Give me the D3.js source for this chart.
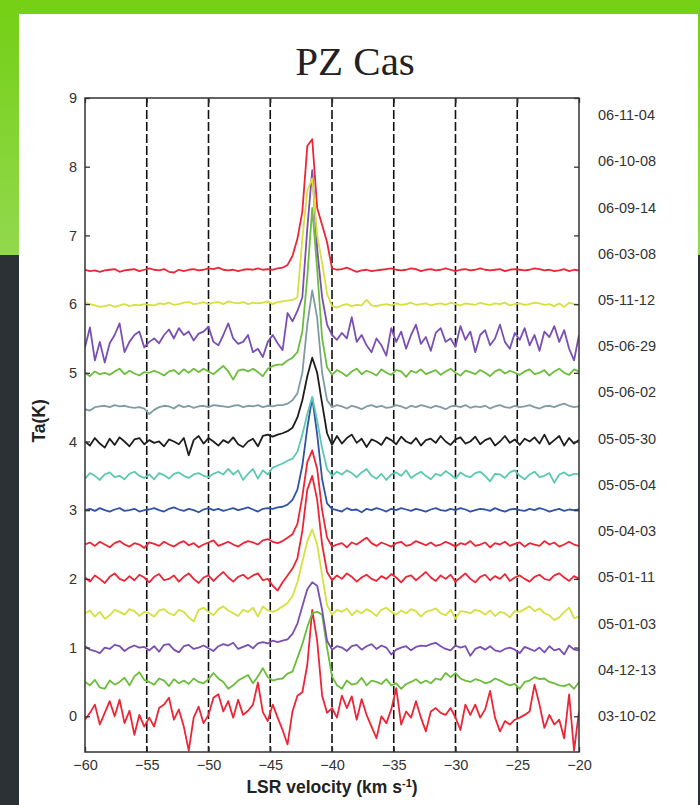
<!DOCTYPE html>
<html lang="en">
<head>
  <meta charset="UTF-8">
  <title>PZ Cas spectra</title>
  <script src="https://cdn.jsdelivr.net/npm/d3@7/dist/d3.min.js"></script>
  <style>
    body { margin: 0; background: #2b3134; }
    svg { display: block; }
    .tick-label { font-family: "Liberation Sans", Arial, sans-serif; font-size: 14.5px; fill: #333; }
    .axis-title { font-family: "Liberation Sans", Arial, sans-serif; font-size: 17.5px; font-weight: bold; fill: #222; }
    .frame { fill: none; stroke: #333; stroke-width: 1.5; }
    .grid { stroke: #111; stroke-width: 1.6; stroke-dasharray: 9,3; }
  </style>
</head>
<body>
<svg width="700" height="805"></svg>
<script>
  // observation dates, bottom spectrum first
  const dates = ["03-10-02", "04-12-13", "05-01-03", "05-01-11", "05-04-03", "05-05-04", "05-05-30",
                 "05-06-02", "05-06-29", "05-11-12", "06-03-08", "06-09-14", "06-10-08", "06-11-04"];
  // vertical shift of each spectrum (K)
  const offsets = [0, 0.5, 1, 1.5, 2, 2.5, 3, 3.5, 4, 4.5, 5, 5.5, 6, 6.5];
  const lineColors = ["#ec2637", "#6cbd3a", "#7a4fb3", "#d6e03e", "#ec2637", "#ec2637", "#3153a6",
                      "#5cc8b2", "#1e1e1e", "#7f9ca4", "#6cbd3a", "#7a4fb3", "#d6e03e", "#ec2637"];

  // channels: -60 km/s, 0.4 km/s steps, 101 channels
  const velStart = -60;
  const velStep = 0.4;

  const xTicks = [-60, -55, -50, -45, -40, -35, -30, -25, -20];
  const yTicks = [0, 1, 2, 3, 4, 5, 6, 7, 8, 9];

  // Ta (K) per channel, before shifting
  const s031002 = [-0.05,0.05,0.17,-0.12,0.05,0.22,0.0,0.24,-0.1,0.08,
    -0.27,0.02,-0.15,-0.02,-0.15,0.12,0.17,0.27,-0.05,0.1,
    -0.15,-0.5,-0.02,0.14,-0.1,0.02,0.27,0.32,0.07,0.22,
    -0.02,0.24,0.02,0.08,0.17,0.49,0.06,-0.07,0.17,-0.02,
    -0.2,-0.41,0.07,0.3,0.35,0.75,1.55,1.1,0.3,0.05,
    0.12,-0.02,0.3,0.12,0.29,-0.05,0.25,0.02,-0.15,-0.32,
    0.0,-0.1,0.1,0.41,-0.12,0.07,-0.02,0.22,-0.02,-0.22,
    0.07,0.12,0.05,0.02,0.12,-0.02,-0.2,0.17,0.02,0.17,
    -0.02,0.1,0.37,-0.02,-0.22,-0.07,-0.12,-0.05,-0.02,0.02,
    0.07,0.46,0.17,-0.17,0.02,-0.12,-0.05,-0.32,0.32,-0.5,
    0.07];
  const s041213 = [0.0,-0.05,0.03,-0.08,-0.1,0.02,-0.04,0.0,0.06,-0.05,
    0.08,0.14,0.03,0.0,-0.04,0.05,0.02,-0.06,0.04,-0.02,
    0.02,-0.03,0.05,0.0,-0.02,0.04,0.13,0.05,0.0,-0.1,
    -0.05,0.02,0.06,0.1,-0.02,0.08,0.2,0.07,0.02,0.04,
    0.05,0.12,0.15,0.35,0.55,0.8,1.0,1.02,0.98,0.5,
    0.08,-0.05,-0.1,0.02,-0.04,-0.02,0.06,-0.05,0.02,0.0,
    -0.03,0.04,-0.05,-0.02,-0.1,-0.03,0.0,0.04,-0.02,0.02,
    -0.02,0.05,0.03,0.13,0.07,0.13,0.05,0.02,0.0,0.04,
    0.02,-0.02,0.0,0.05,0.02,-0.02,-0.05,-0.03,-0.1,0.0,
    0.02,0.07,0.04,0.05,0.0,-0.02,-0.05,-0.06,-0.03,-0.1,
    0.0];
  const s050103 = [0.02,-0.03,-0.05,-0.08,0.0,-0.02,0.04,0.02,-0.05,0.0,
    0.03,0.0,0.01,-0.04,0.02,-0.06,0.04,0.05,-0.03,-0.07,
    0.02,0.04,-0.02,0.0,0.03,-0.01,-0.05,0.02,0.05,0.03,
    0.07,-0.02,0.01,0.04,-0.01,0.06,0.08,0.06,0.1,0.08,
    0.1,0.12,0.2,0.35,0.6,0.85,0.95,0.9,0.55,0.1,
    -0.03,0.02,0.0,-0.05,0.02,0.04,-0.03,0.02,0.05,-0.02,
    0.03,0.0,-0.1,-0.03,0.0,0.02,-0.04,0.01,0.03,0.02,
    0.05,0.07,0.02,-0.02,-0.04,0.03,0.0,0.02,-0.12,-0.02,
    0.01,-0.03,0.02,-0.04,-0.06,-0.02,0.0,-0.03,-0.08,0.01,
    -0.02,-0.05,0.0,-0.07,0.02,-0.04,-0.02,-0.1,0.03,-0.03,
    -0.04];
  const s050111 = [0.0,0.04,-0.05,0.02,-0.08,-0.03,0.05,0.02,-0.02,0.06,
    0.03,-0.04,0.02,0.0,-0.05,0.04,0.06,0.0,-0.03,0.05,
    0.02,-0.06,-0.12,0.05,0.08,0.02,-0.03,0.06,0.1,0.04,
    0.0,-0.04,0.05,0.02,0.08,-0.05,0.1,0.04,0.02,0.05,
    0.1,0.15,0.25,0.45,0.75,1.05,1.22,1.0,0.55,0.12,
    -0.02,0.05,0.02,0.07,-0.03,0.04,0.0,0.06,0.02,-0.04,
    0.05,0.08,0.02,-0.02,0.04,0.0,0.06,0.03,-0.05,0.02,
    0.04,0.07,0.0,-0.03,0.05,-0.08,0.03,0.02,0.0,0.05,
    0.03,-0.02,0.04,-0.04,0.02,0.0,-0.06,0.03,0.02,0.06,
    0.1,0.03,0.07,0.0,-0.03,-0.1,-0.06,0.02,0.08,-0.07,
    -0.05];
  const s050403 = [0.02,-0.04,0.05,0.0,-0.06,0.03,0.08,0.0,-0.03,0.04,
    -0.02,0.06,0.02,-0.05,0.03,0.07,-0.02,0.0,0.05,-0.04,
    0.03,0.08,0.0,-0.06,0.02,0.05,-0.03,0.04,0.1,0.02,
    -0.04,0.03,0.06,0.0,0.05,0.08,-0.02,0.0,-0.1,-0.17,
    -0.05,0.05,0.15,0.3,0.7,1.3,1.5,1.15,0.5,0.1,
    -0.02,0.05,0.0,0.08,0.03,-0.04,0.02,0.06,0.0,-0.03,
    0.04,0.0,0.07,0.02,-0.05,0.03,0.05,-0.02,0.04,0.1,
    0.02,-0.03,0.05,0.0,0.06,-0.04,0.02,0.08,0.0,-0.05,
    0.03,0.06,-0.02,0.04,0.0,0.07,-0.03,0.02,0.05,0.0,
    -0.04,0.03,0.06,0.0,-0.02,0.05,0.08,0.02,-0.03,0.04,
    0.0];
  const s050504 = [0.0,0.03,-0.02,0.04,0.0,-0.04,0.02,0.05,0.0,-0.03,
    0.02,0.0,-0.05,0.03,0.01,-0.02,0.04,0.0,-0.03,0.02,
    0.05,-0.01,0.02,-0.04,0.0,0.03,0.06,-0.02,0.01,0.04,
    0.0,-0.03,0.02,0.05,0.03,0.0,0.06,0.08,0.04,0.02,
    0.05,0.1,0.15,0.3,0.7,1.2,1.37,1.1,0.5,0.1,
    -0.03,0.0,0.02,-0.04,0.03,0.0,0.05,0.1,0.02,-0.02,
    0.03,0.0,-0.03,0.02,0.04,-0.02,0.0,0.05,0.02,-0.01,
    0.03,-0.02,0.0,0.04,0.01,-0.03,0.02,0.0,0.05,-0.02,
    0.0,0.03,-0.04,0.02,0.0,0.04,-0.02,0.01,0.03,-0.03,
    0.02,0.0,-0.02,0.05,0.0,0.03,-0.03,0.0,0.04,0.0,
    -0.02];
  const s050530 = [0.0,0.02,-0.01,0.03,0.0,-0.02,0.01,0.03,-0.01,0.0,
    0.02,-0.02,0.0,0.01,0.03,0.0,-0.02,0.02,0.04,0.01,
    -0.01,0.02,0.0,-0.03,0.01,0.03,0.0,0.02,-0.01,0.01,
    0.03,0.0,0.02,0.04,0.01,-0.02,0.02,0.03,0.02,0.04,
    0.05,0.08,0.15,0.3,0.65,1.2,1.64,1.1,0.45,0.1,
    0.02,0.0,-0.02,0.03,0.0,0.01,-0.03,0.02,0.0,0.03,
    0.01,-0.02,0.02,0.0,0.03,0.01,-0.01,0.02,0.0,-0.02,
    0.01,0.03,0.0,-0.01,0.02,0.0,0.03,0.01,-0.02,0.0,
    0.02,0.01,-0.01,0.03,0.0,-0.02,0.01,0.02,0.0,-0.01,
    0.02,0.0,0.03,0.01,-0.02,0.0,0.02,-0.01,0.01,0.0,
    0.01];
  const s050602 = [-0.04,0.04,0.0,-0.06,0.02,0.05,-0.02,0.0,-0.05,0.03,
    0.06,0.0,-0.03,0.02,-0.05,0.04,0.01,-0.04,0.03,0.05,
    0.0,-0.03,0.02,0.04,0.0,-0.02,0.03,0.06,0.02,0.1,
    0.02,0.08,-0.06,0.03,0.1,-0.04,0.08,0.02,0.12,0.15,
    0.18,0.22,0.25,0.35,0.6,0.9,1.15,0.8,0.4,0.1,
    0.0,0.06,0.02,0.08,0.04,-0.02,0.05,0.1,0.0,-0.04,
    0.03,-0.06,0.02,0.05,0.0,0.08,-0.03,0.02,0.06,0.0,
    -0.05,0.03,0.0,0.07,0.02,-0.04,0.05,0.0,-0.02,0.04,
    0.06,0.0,-0.08,0.03,0.02,-0.03,0.05,0.08,0.0,-0.05,
    0.02,0.06,-0.02,0.0,0.04,-0.1,0.02,0.05,0.0,0.03,
    0.02];
  const s050629 = [0.0,-0.06,0.05,-0.03,-0.09,0.04,-0.05,0.06,0.0,-0.07,
    0.03,0.05,-0.04,0.02,-0.02,0.0,-0.07,0.03,0.0,-0.04,
    0.05,-0.2,0.02,0.08,-0.03,0.05,0.0,-0.06,0.02,-0.02,
    0.06,-0.04,-0.08,0.0,0.04,-0.07,0.08,0.1,0.07,0.1,
    0.12,0.15,0.2,0.35,0.6,0.95,1.22,1.0,0.55,0.12,
    -0.05,0.08,-0.03,0.05,0.1,-0.02,0.04,-0.08,0.03,0.0,
    -0.05,0.06,0.02,-0.04,0.07,0.0,-0.03,0.05,-0.06,0.02,
    0.04,-0.02,0.08,0.0,-0.05,0.03,0.06,-0.03,0.0,0.07,
    -0.04,0.02,0.05,-0.06,0.0,0.08,-0.02,0.03,-0.05,0.04,
    0.0,0.06,-0.03,0.1,-0.04,0.02,0.08,-0.06,0.05,-0.03,
    0.02];
  const s051112 = [-0.03,-0.05,0.0,0.01,0.02,0.0,0.03,0.01,0.02,0.0,
    -0.01,0.0,-0.02,-0.1,-0.04,0.0,0.02,0.01,-0.02,0.03,
    0.0,0.02,-0.01,0.01,0.02,0.0,0.03,0.02,0.01,0.0,
    0.02,0.03,0.0,0.02,0.01,0.03,0.0,0.02,0.01,0.03,
    0.03,0.05,0.1,0.2,0.5,1.2,1.7,1.3,0.5,0.1,
    0.0,0.03,0.01,-0.02,0.02,0.0,-0.03,0.01,0.03,0.0,
    0.02,-0.01,0.0,0.03,0.01,-0.02,0.02,0.0,0.03,0.01,
    -0.01,0.02,0.0,-0.03,0.01,0.02,0.0,0.03,-0.01,0.01,
    0.0,0.02,-0.02,0.01,0.03,0.0,-0.01,0.02,0.0,0.01,
    0.03,0.0,-0.02,0.01,0.02,0.0,0.03,0.05,0.02,0.0,
    0.01];
  const s060308 = [0.0,-0.05,0.02,-0.02,0.0,-0.03,0.02,0.06,-0.02,0.03,
    -0.01,-0.04,0.01,0.0,0.03,0.0,-0.04,0.02,0.04,-0.02,
    0.05,0.0,0.06,0.01,0.06,0.02,-0.02,0.04,0.1,0.02,
    -0.1,0.03,0.05,0.02,0.06,0.01,-0.05,0.06,0.1,0.12,
    0.12,0.18,0.22,0.3,0.6,1.4,2.4,1.5,0.5,0.08,
    -0.03,0.04,0.0,-0.05,0.02,0.06,-0.02,0.03,0.0,-0.04,
    0.05,0.0,-0.03,0.04,0.02,-0.06,0.03,0.0,0.05,-0.02,
    0.01,0.04,-0.03,0.02,0.06,0.0,-0.04,0.03,0.01,-0.02,
    0.04,0.0,-0.05,0.02,0.05,-0.01,0.03,0.0,-0.03,0.02,
    0.05,-0.02,0.0,0.04,-0.04,0.02,0.06,0.0,-0.03,0.05,
    0.02];
  const s060914 = [-0.13,0.16,-0.32,-0.05,-0.35,-0.07,0.05,0.22,-0.2,-0.05,
    0.05,0.1,-0.13,-0.05,0.0,-0.07,0.05,0.13,0.0,0.15,
    0.05,0.1,-0.03,0.07,0.1,0.17,-0.05,-0.1,0.05,0.22,
    0.0,-0.08,-0.05,0.05,-0.2,-0.15,-0.27,-0.05,0.05,-0.07,
    -0.17,0.37,0.25,0.4,0.6,1.6,2.45,1.3,0.6,0.2,
    0.05,-0.02,0.08,0.0,0.31,-0.05,0.05,-0.1,-0.2,0.0,
    -0.1,-0.25,0.15,-0.05,0.1,-0.15,0.05,0.2,-0.08,0.02,
    -0.18,0.08,0.15,-0.05,0.0,-0.12,0.18,-0.02,0.1,-0.2,
    0.05,0.12,-0.1,0.0,0.2,-0.05,-0.15,0.08,-0.02,0.15,
    -0.1,0.05,-0.18,0.1,0.02,0.18,-0.05,0.12,-0.15,-0.32,
    0.05];
  const s061008 = [0.02,0.0,-0.02,-0.04,-0.03,-0.01,-0.04,-0.02,0.0,-0.03,
    -0.01,-0.02,0.0,-0.01,-0.02,0.01,0.0,0.02,-0.01,0.0,
    0.02,0.03,0.0,0.01,0.03,0.0,0.02,0.03,0.0,0.04,
    0.02,0.01,0.03,0.0,0.02,0.01,0.02,0.04,0.0,0.03,
    0.04,0.05,0.06,0.1,0.95,1.65,1.83,1.0,0.6,0.15,
    -0.03,-0.05,-0.02,0.0,-0.03,-0.01,-0.02,0.06,-0.02,-0.03,
    -0.01,0.0,-0.02,0.01,-0.01,0.0,0.02,-0.01,0.0,0.01,
    -0.02,0.0,0.01,-0.01,0.02,0.0,-0.02,0.01,0.0,-0.01,
    0.02,0.0,-0.01,0.01,0.0,0.02,-0.02,0.0,0.01,-0.01,
    0.0,0.02,0.01,-0.01,0.0,-0.03,0.01,-0.04,0.02,0.0,
    -0.02];
  const s061104 = [0.0,-0.02,-0.01,-0.03,-0.01,0.0,0.01,-0.03,-0.01,0.0,
    0.01,-0.02,0.0,0.02,0.0,-0.01,0.01,-0.03,-0.04,0.0,
    -0.02,0.0,0.01,-0.01,0.0,0.02,0.01,0.03,0.0,-0.01,
    0.0,-0.02,0.0,0.01,0.0,0.02,0.0,0.01,0.0,0.02,
    0.03,0.07,0.2,0.45,0.85,1.8,1.9,0.9,0.65,0.4,
    0.02,0.0,0.01,0.03,0.0,-0.03,-0.01,0.0,-0.02,-0.01,
    0.0,0.01,0.02,0.0,-0.01,0.0,0.02,0.01,-0.02,0.0,
    0.01,-0.01,0.0,0.02,0.0,-0.02,0.0,0.01,-0.01,0.0,
    0.02,0.0,-0.01,0.0,0.01,-0.02,0.0,0.01,0.0,-0.01,
    0.0,0.02,0.01,-0.01,0.0,-0.02,-0.01,0.01,-0.02,0.0,
    -0.01];

  const spectra = [s031002, s041213, s050103, s050111, s050403, s050504, s050530,
                   s050602, s050629, s051112, s060308, s060914, s061008, s061104];

  const svg = d3.select("svg");

  // slide background: green band on top and left, white panel
  const grad = svg.append("defs").append("linearGradient")
    .attr("id", "greenFade").attr("x1", 0).attr("y1", 0).attr("x2", 0).attr("y2", 1);
  grad.append("stop").attr("offset", "0%").attr("stop-color", "#74cf14");
  grad.append("stop").attr("offset", "100%").attr("stop-color", "#92d94e");
  svg.append("rect").attr("x", 0).attr("y", 0).attr("width", 700).attr("height", 255)
    .attr("fill", "url(#greenFade)");
  svg.append("rect").attr("x", 0).attr("y", 0).attr("width", 700).attr("height", 14)
    .attr("fill", "#76d016");
  svg.append("rect").attr("x", 19).attr("y", 14).attr("width", 679).attr("height", 791)
    .attr("fill", "#ffffff");

  const x = d3.scaleLinear().domain([-60, -20]).range([85, 579]);
  const y = d3.scaleLinear().domain([-0.52, 9]).range([752, 98]);

  svg.append("text")
    .attr("x", 355).attr("y", 75)
    .attr("text-anchor", "middle")
    .style("font-family", "'Liberation Serif', 'Times New Roman', serif")
    .style("font-size", "41px")
    .style("fill", "#222")
    .text("PZ Cas");

  svg.append("clipPath").attr("id", "plotClip")
    .append("rect")
    .attr("x", x(-60)).attr("y", y(9))
    .attr("width", x(-20) - x(-60)).attr("height", y(-0.52) - y(9));

  // dashed vertical grid lines
  svg.append("g").selectAll("line")
    .data(xTicks.slice(1, -1))
    .join("line")
    .attr("class", "grid")
    .attr("x1", d => x(d)).attr("x2", d => x(d))
    .attr("y1", y(9)).attr("y2", y(-0.52));

  // spectra
  const line = d3.line()
    .x((d, i) => x(velStart + i * velStep))
    .y(d => y(d));

  svg.append("g").attr("clip-path", "url(#plotClip)")
    .selectAll("path")
    .data(spectra)
    .join("path")
    .attr("fill", "none")
    .attr("stroke", (d, i) => lineColors[i])
    .attr("stroke-width", 1.8)
    .attr("stroke-linejoin", "round")
    .attr("d", (d, i) => line(d.map(v => v + offsets[i])));

  // axes (ticks inward)
  const axisL = d3.axisLeft(y).tickValues(yTicks).tickSize(-5).tickPadding(8).tickFormat(d3.format("d"));
  const axisR = d3.axisRight(y).tickValues(yTicks).tickSize(-5).tickFormat("");
  const axisB = d3.axisBottom(x).tickValues(xTicks).tickSize(-5).tickPadding(8).tickFormat(d3.format("d"));
  const axisT = d3.axisTop(x).tickValues(xTicks).tickSize(-5).tickFormat("");

  function styleAxis(g) {
    g.select(".domain").remove();
    g.selectAll(".tick line").attr("stroke", "#333").attr("stroke-width", 1.3);
    g.selectAll(".tick text").attr("class", "tick-label").attr("fill", null);
    g.attr("font-family", null).attr("font-size", null);
  }

  svg.append("g").attr("transform", `translate(${x(-60)},0)`).call(axisL).call(styleAxis);
  svg.append("g").attr("transform", `translate(${x(-20)},0)`).call(axisR).call(styleAxis);
  svg.append("g").attr("transform", `translate(0,${y(-0.52)})`).call(axisB).call(styleAxis);
  svg.append("g").attr("transform", `translate(0,${y(9)})`).call(axisT).call(styleAxis);

  svg.append("rect").attr("class", "frame")
    .attr("x", x(-60)).attr("y", y(9))
    .attr("width", x(-20) - x(-60)).attr("height", y(-0.52) - y(9));

  // date labels on the right
  const labelY = d3.scalePoint().domain(dates).range([716, 115]);
  svg.append("g").selectAll("text")
    .data(dates)
    .join("text")
    .attr("class", "tick-label")
    .attr("x", 598)
    .attr("y", d => labelY(d))
    .attr("dy", "0.35em")
    .text(d => d);

  // axis titles
  const xt = svg.append("text").attr("class", "axis-title")
    .attr("x", x(-40)).attr("y", 793).attr("text-anchor", "middle");
  xt.append("tspan").text("LSR velocity (km s");
  xt.append("tspan").attr("dy", -6).style("font-size", "11px").text("-1");
  xt.append("tspan").attr("dy", 6).text(")");

  svg.append("text").attr("class", "axis-title")
    .attr("transform", `translate(45,${y(4.3)}) rotate(-90)`)
    .attr("text-anchor", "middle")
    .text("Ta(K)");
</script>
</body>
</html>
